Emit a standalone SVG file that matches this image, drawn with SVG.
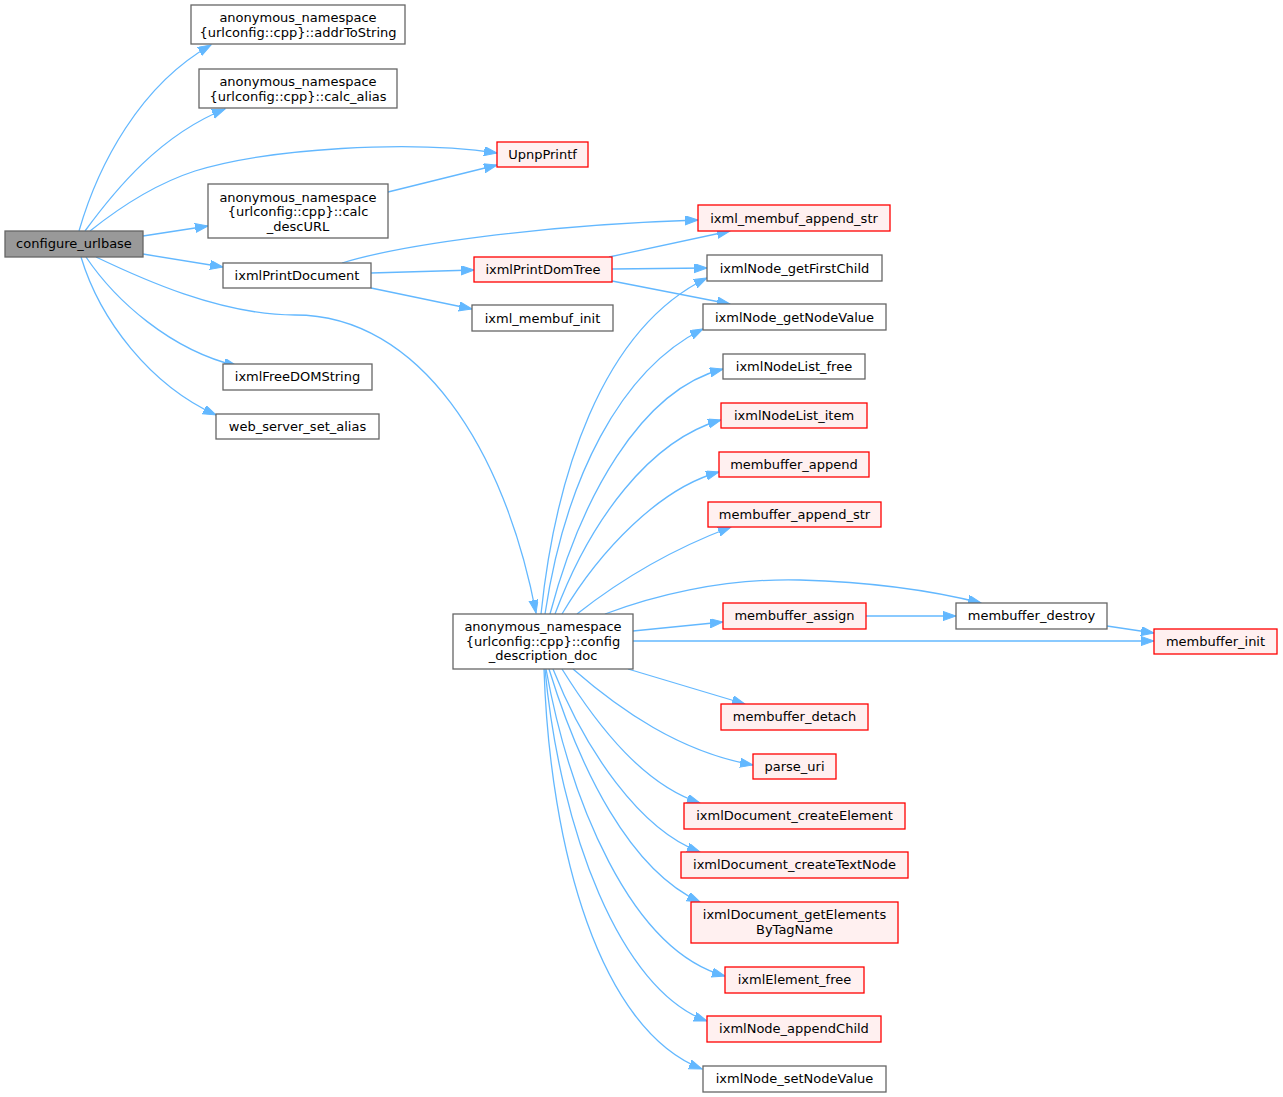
<svg xmlns="http://www.w3.org/2000/svg" width="1283" height="1097" viewBox="0 0 1283 1097">
<style>
.n rect{fill:#ffffff;stroke:#666666;stroke-width:1.3}
.n.red rect{fill:#fff0f0;stroke:#ff0000}
.n.root rect{fill:#999999;stroke:#666666}
text{font-family:"DejaVu Sans","Liberation Sans",sans-serif;font-size:13px;fill:#000;text-anchor:middle}
.e path{fill:none;stroke:#63b8ff;stroke-width:1.3;marker-end:url(#ah)}
</style>
<defs>
<marker id="ah" markerUnits="userSpaceOnUse" markerWidth="14" markerHeight="10" refX="13" refY="4.6" orient="auto">
<path d="M0,0 L13,4.6 L0,9.2 z" fill="#63b8ff" stroke="#63b8ff" stroke-width="1"/>
</marker>
</defs>
<rect width="1283" height="1097" fill="#ffffff"/>
<g class="e" id="edges">
<path d="M79,231 C98,165 140,85 211,45"/>
<path d="M85,231 C115,190 160,135 225,109"/>
<path d="M90,231 C120,207 155,184 195,171 C270,148 410,140 497,153"/>
<path d="M143,236 L208,226"/>
<path d="M143,254 L223,267"/>
<path d="M96,257 C140,278 220,315 295,315 C420,315 505,450 536,613"/>
<path d="M86,257 C115,300 170,350 237,366"/>
<path d="M81,257 C100,320 150,385 216,415"/>
<path d="M388,192 L497,165"/>
<path d="M342,263 C400,245 540,225 698,220"/>
<path d="M371,273 L474,270"/>
<path d="M371,288 L472,309"/>
<path d="M609,257 L730,231"/>
<path d="M612,269 L707,268"/>
<path d="M612,281 L730,304"/>
<path d="M541,614 C555,480 600,330 707,278"/>
<path d="M545,614 C565,480 620,370 703,329"/>
<path d="M550,614 C580,500 640,390 723,369"/>
<path d="M555,614 C590,520 650,440 721,420"/>
<path d="M562,614 C600,550 660,488 719,472"/>
<path d="M577,614 C620,580 670,550 731,527"/>
<path d="M605,614 C650,597 720,578 800,580 C870,582 930,590 981,603"/>
<path d="M633,631 L723,622"/>
<path d="M866,616 L956,616"/>
<path d="M633,641 L1154,641"/>
<path d="M1107,626 L1154,633"/>
<path d="M628,669 L745,704"/>
<path d="M573,669 C620,710 680,752 753,765"/>
<path d="M562,669 C600,730 645,785 700,803"/>
<path d="M553,669 C585,750 640,830 700,852"/>
<path d="M549,669 C580,770 630,870 700,902"/>
<path d="M546,669 C570,800 630,950 725,976"/>
<path d="M545,669 C560,830 620,990 707,1021"/>
<path d="M544,669 C550,850 600,1030 702,1069"/>
</g>
<g id="configure_urlbase" class="n root"><rect x="5" y="231" width="138" height="26"/><text x="74" y="248">configure_urlbase</text></g>
<g id="addrToString" class="n"><rect x="191" y="5" width="214" height="39"/><text x="298" y="21.5">anonymous_namespace</text><text x="298" y="36.5">{urlconfig::cpp}::addrToString</text></g>
<g id="calc_alias" class="n"><rect x="199" y="69" width="198" height="39"/><text x="298" y="85.5">anonymous_namespace</text><text x="298" y="100.5">{urlconfig::cpp}::calc_alias</text></g>
<g id="UpnpPrintf" class="n red"><rect x="497" y="142" width="91" height="25"/><text x="542.5" y="159">UpnpPrintf</text></g>
<g id="calc_descURL" class="n"><rect x="208" y="184" width="180" height="54"/><text x="298" y="201.5">anonymous_namespace</text><text x="298" y="216">{urlconfig::cpp}::calc</text><text x="298" y="230.5">_descURL</text></g>
<g id="ixmlPrintDocument" class="n"><rect x="223" y="263" width="148" height="25"/><text x="297" y="280">ixmlPrintDocument</text></g>
<g id="ixml_membuf_append_str" class="n red"><rect x="698" y="205" width="192" height="26"/><text x="794" y="222.5">ixml_membuf_append_str</text></g>
<g id="ixmlPrintDomTree" class="n red"><rect x="474" y="257" width="138" height="25"/><text x="543" y="274">ixmlPrintDomTree</text></g>
<g id="ixmlNode_getFirstChild" class="n"><rect x="707" y="255" width="175" height="26"/><text x="794.5" y="272.5">ixmlNode_getFirstChild</text></g>
<g id="ixml_membuf_init" class="n"><rect x="472" y="305" width="141" height="26"/><text x="542.5" y="322.5">ixml_membuf_init</text></g>
<g id="ixmlNode_getNodeValue" class="n"><rect x="703" y="304" width="183" height="26"/><text x="794.5" y="321.5">ixmlNode_getNodeValue</text></g>
<g id="ixmlNodeList_free" class="n"><rect x="723" y="354" width="142" height="25"/><text x="794" y="371">ixmlNodeList_free</text></g>
<g id="ixmlNodeList_item" class="n red"><rect x="721" y="403" width="146" height="25"/><text x="794" y="420">ixmlNodeList_item</text></g>
<g id="membuffer_append" class="n red"><rect x="719" y="452" width="150" height="25"/><text x="794" y="469">membuffer_append</text></g>
<g id="membuffer_append_str" class="n red"><rect x="708" y="502" width="173" height="25"/><text x="794.5" y="519">membuffer_append_str</text></g>
<g id="config_description_doc" class="n"><rect x="453" y="614" width="180" height="55"/><text x="543" y="630.5">anonymous_namespace</text><text x="543" y="645.5">{urlconfig::cpp}::config</text><text x="543" y="660">_description_doc</text></g>
<g id="membuffer_assign" class="n red"><rect x="723" y="603" width="143" height="26"/><text x="794.5" y="620">membuffer_assign</text></g>
<g id="membuffer_destroy" class="n"><rect x="956" y="603" width="151" height="26"/><text x="1031.5" y="620">membuffer_destroy</text></g>
<g id="membuffer_init" class="n red"><rect x="1154" y="629" width="123" height="25"/><text x="1215.5" y="646">membuffer_init</text></g>
<g id="membuffer_detach" class="n red"><rect x="721" y="704" width="147" height="26"/><text x="794.5" y="721">membuffer_detach</text></g>
<g id="parse_uri" class="n red"><rect x="753" y="754" width="83" height="25"/><text x="794.5" y="771">parse_uri</text></g>
<g id="ixmlDocument_createElement" class="n red"><rect x="684" y="803" width="221" height="26"/><text x="794.5" y="820">ixmlDocument_createElement</text></g>
<g id="ixmlDocument_createTextNode" class="n red"><rect x="681" y="852" width="227" height="26"/><text x="794.5" y="869">ixmlDocument_createTextNode</text></g>
<g id="ixmlDocument_getElementsByTagName" class="n red"><rect x="691" y="902" width="207" height="41"/><text x="794.5" y="918.5">ixmlDocument_getElements</text><text x="794.5" y="933.5">ByTagName</text></g>
<g id="ixmlElement_free" class="n red"><rect x="725" y="967" width="139" height="26"/><text x="794.5" y="984">ixmlElement_free</text></g>
<g id="ixmlNode_appendChild" class="n red"><rect x="707" y="1016" width="174" height="26"/><text x="794" y="1033">ixmlNode_appendChild</text></g>
<g id="ixmlNode_setNodeValue" class="n"><rect x="703" y="1066" width="183" height="26"/><text x="794.5" y="1083">ixmlNode_setNodeValue</text></g>
<g id="ixmlFreeDOMString" class="n"><rect x="223" y="364" width="149" height="26"/><text x="297.5" y="381">ixmlFreeDOMString</text></g>
<g id="web_server_set_alias" class="n"><rect x="216" y="414" width="163" height="25"/><text x="297.5" y="431">web_server_set_alias</text></g>
</svg>
